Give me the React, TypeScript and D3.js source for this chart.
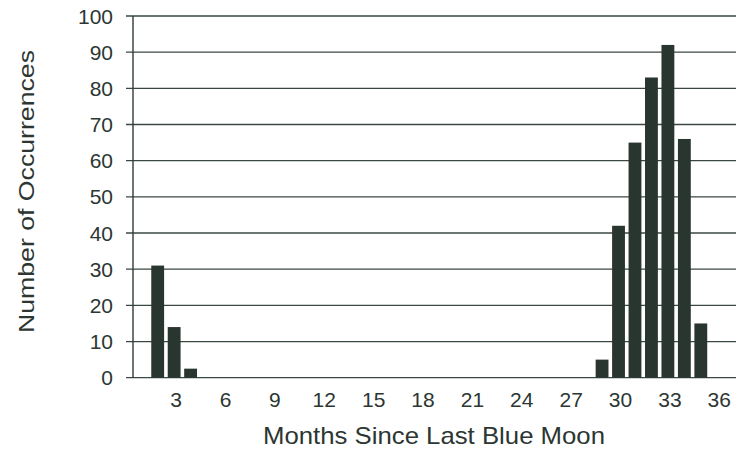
import React, { useRef, useEffect } from 'react';
import * as d3 from 'd3';

// months since last blue moon (category axis)
const months = [
  1, 2, 3, 4, 5, 6, 7, 8, 9, 10, 11, 12, 13, 14, 15, 16, 17, 18,
  19, 20, 21, 22, 23, 24, 25, 26, 27, 28, 29, 30, 31, 32, 33, 34, 35, 36,
];
// number of occurrences per month
const occurrences = [
  0, 31, 14, 2.5, 0, 0, 0, 0, 0, 0, 0, 0, 0, 0, 0, 0, 0, 0,
  0, 0, 0, 0, 0, 0, 0, 0, 0, 0, 5, 42, 65, 83, 92, 66, 15, 0,
];
const yTicks = [0, 10, 20, 30, 40, 50, 60, 70, 80, 90, 100];
const xTickLabels = [3, 6, 9, 12, 15, 18, 21, 24, 27, 30, 33, 36];

const App: React.FC = () => {
  const chartRef = useRef<SVGSVGElement | null>(null);

  useEffect(() => {
    if (!chartRef.current) return;
    d3.select(chartRef.current).selectAll('*').remove();

    const width = 736;
    const height = 449;
    const left = 133;
    const top = 16;
    const bottom = 377.7;
    const bandRight = 725.5;
    const textColor = '#2c3632';
    const barColor = '#29352f';
    const font = '"Liberation Sans", Arial, sans-serif';

    const svg = d3.select(chartRef.current)
      .attr('width', width)
      .attr('height', height);

    const x = d3.scaleBand<number>()
      .domain(months)
      .range([left, bandRight])
      .paddingInner(0.22)
      .paddingOuter(0.11);

    const y = d3.scaleLinear()
      .domain([0, 100])
      .range([bottom, top]);

    // gridlines + y ticks
    svg.append('g')
      .selectAll('line')
      .data(yTicks)
      .join('line')
      .attr('x1', left - 7)
      .attr('x2', width)
      .attr('y1', d => y(d))
      .attr('y2', d => y(d))
      .attr('stroke', '#3a4842')
      .attr('stroke-width', 1.3);

    // y axis line
    svg.append('line')
      .attr('x1', left)
      .attr('x2', left)
      .attr('y1', top)
      .attr('y2', bottom)
      .attr('stroke', '#2f3b36')
      .attr('stroke-width', 1.4);

    // bars
    const data = months.map((m, i) => ({ month: m, value: occurrences[i] }));
    svg.append('g')
      .selectAll('rect')
      .data(data.filter(d => d.value > 0))
      .join('rect')
      .attr('x', d => x(d.month) || 0)
      .attr('y', d => y(d.value))
      .attr('width', x.bandwidth())
      .attr('height', d => bottom - y(d.value))
      .attr('fill', barColor);

    // y tick labels
    svg.append('g')
      .selectAll('text')
      .data(yTicks)
      .join('text')
      .attr('x', 113)
      .attr('y', d => y(d))
      .attr('dy', '0.36em')
      .attr('text-anchor', 'end')
      .attr('font-family', font)
      .attr('font-size', 21)
      .attr('fill', textColor)
      .text(d => d);

    // x tick labels
    svg.append('g')
      .selectAll('text')
      .data(xTickLabels)
      .join('text')
      .attr('x', d => (x(d) || 0) + x.bandwidth() / 2 + 2)
      .attr('y', 406.5)
      .attr('text-anchor', 'middle')
      .attr('font-family', font)
      .attr('font-size', 21)
      .attr('fill', textColor)
      .text(d => d);

    // axis titles
    svg.append('text')
      .attr('x', 263)
      .attr('y', 443.5)
      .attr('textLength', 342)
      .attr('lengthAdjust', 'spacingAndGlyphs')
      .attr('font-family', font)
      .attr('font-size', 24)
      .attr('fill', textColor)
      .text('Months Since Last Blue Moon');

    svg.append('text')
      .attr('transform', 'translate(33.5,333) rotate(-90)')
      .attr('textLength', 283)
      .attr('lengthAdjust', 'spacingAndGlyphs')
      .attr('font-family', font)
      .attr('font-size', 22)
      .attr('fill', textColor)
      .text('Number of Occurrences');
  }, []);

  return (
    <div style={{ position: 'absolute', left: 0, top: 0 }}>
      <svg ref={chartRef} style={{ display: 'block' }} />
    </div>
  );
};

export default App;
